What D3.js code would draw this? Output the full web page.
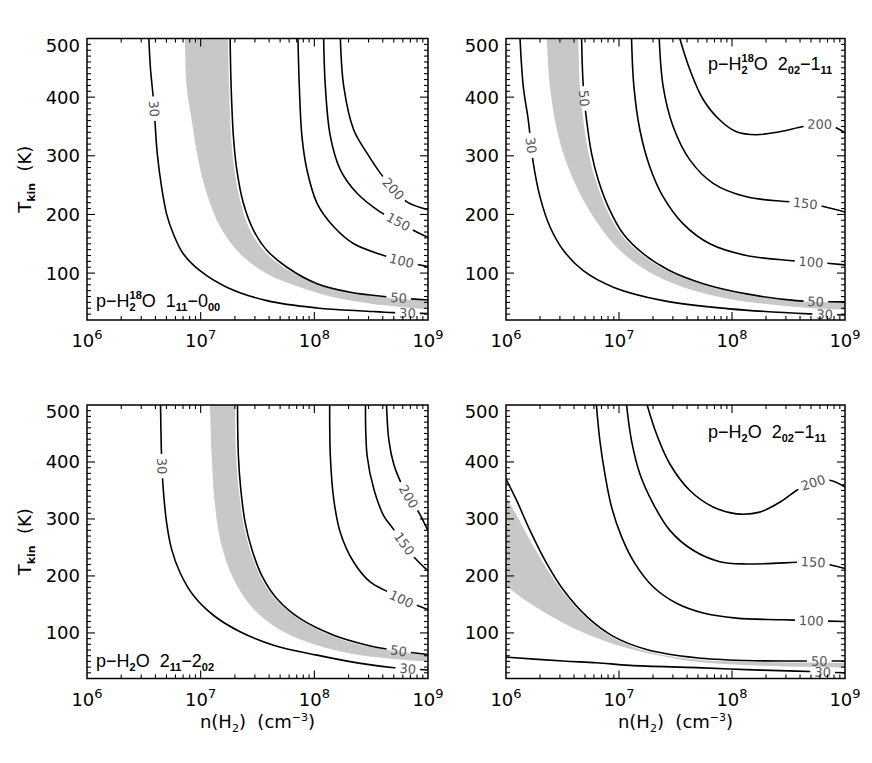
<!DOCTYPE html>
<html><head><meta charset="utf-8">
<script src="https://cdn.jsdelivr.net/npm/d3@7"></script>
<style>
body{margin:0;background:#fff;}
text{font-family:"DejaVu Sans","Liberation Sans",Arial,sans-serif;white-space:pre;}
text.lib{font-family:"Liberation Sans",Arial,Helvetica,sans-serif;}
</style></head><body>
<svg id="c" width="872" height="763"></svg>
<script>
// ---------------- DATA ----------------
const xTickExp = [6, 7, 8, 9];
const yTickVals = [100, 200, 300, 400, 500];
const levels = [30, 50, 100, 150, 200];

// points are [log10 n(H2), Tkin]
// Panel 1: p-H2^18O 1_11-0_00
const p1_c30  = [[6.544,500],[6.559,447],[6.582,401],[6.597,361],[6.618,304],[6.656,247],[6.70,201],[6.759,167],[6.847,133],[6.994,104],[7.229,76],[7.582,53],[8.024,40.5],[8.465,35],[8.70,32.5],[9.0,31]];
const p1_c50  = [[7.259,500],[7.268,418],[7.288,333],[7.318,276],[7.376,219],[7.465,173],[7.582,139],[7.759,110],[8.024,82],[8.318,67.3],[8.612,60],[9.0,54]];
const p1_c100 = [[7.856,500],[7.868,418],[7.891,333],[7.935,276],[8.024,219],[8.171,179],[8.347,150],[8.612,130],[8.75,122],[9.0,111]];
const p1_c150 = [[8.082,500],[8.097,418],[8.141,333],[8.229,276],[8.376,236],[8.582,204],[8.735,188],[8.90,170],[9.0,161]];
const p1_c200 = [[8.229,500],[8.259,418],[8.347,344],[8.465,304],[8.582,270],[8.694,244],[8.818,221],[9.0,208]];
const p1_bandL = [[6.862,500],[6.876,418],[6.921,361],[6.979,293],[7.053,236],[7.171,179],[7.347,133],[7.582,99],[7.876,76],[8.171,59],[8.612,45],[9.0,38]];
const p1_bandR = [[7.241,500],[7.25,418],[7.268,333],[7.297,276],[7.353,219],[7.435,173],[7.553,139],[7.729,110],[7.994,84.5],[8.288,69],[8.612,59],[9.0,53]];

// Panel 2: p-H2^18O 2_02-1_11
const p2_c30  = [[6.124,500],[6.153,418],[6.197,361],[6.242,287],[6.301,230],[6.389,179],[6.507,139],[6.684,104],[6.949,76],[7.391,53],[7.98,39],[8.687,30.5],[9.0,28.5]];
const p2_c50  = [[6.669,500],[6.684,418],[6.713,361],[6.757,304],[6.816,259],[6.905,213],[7.037,167],[7.214,133],[7.45,104],[7.745,82],[8.128,64.5],[8.57,53],[9.0,51]];
const p2_c100 = [[7.111,500],[7.132,418],[7.185,344],[7.273,281],[7.391,230],[7.568,184],[7.804,150],[8.128,130],[8.511,121.5],[8.70,119],[9.0,114]];
const p2_c150 = [[7.356,500],[7.391,418],[7.479,350],[7.627,293],[7.833,253],[8.128,230],[8.481,222],[8.65,219],[8.80,214],[9.0,204]];
const p2_c200 = [[7.538,500],[7.627,447],[7.745,396],[7.892,361],[8.039,341],[8.216,336],[8.422,341],[8.629,350],[8.776,354],[8.91,349],[9.0,339]];
const p2_bandL = [[6.36,500],[6.389,418],[6.433,361],[6.507,304],[6.625,247],[6.772,196],[6.978,144.4],[7.244,104.4],[7.568,76],[7.98,56],[8.57,42],[9.0,37]];
const p2_bandR = [[6.64,500],[6.654,418],[6.684,361],[6.731,304],[6.793,259],[6.881,213],[7.014,167],[7.191,133],[7.426,104],[7.721,82],[8.113,63],[8.57,52.5],[9.0,49.6]];

// Panel 3: p-H2O 2_11-2_02
const p3_c30  = [[6.647,500],[6.656,410],[6.671,352],[6.70,294],[6.744,247],[6.818,206],[6.935,166],[7.112,131],[7.347,102],[7.641,78.5],[8.024,61],[8.406,46.5],[8.70,39],[9.0,35]];
const p3_c50  = [[7.324,500],[7.332,410],[7.353,352],[7.391,294],[7.45,247],[7.538,200.6],[7.671,160],[7.876,125],[8.171,96],[8.465,78.5],[8.641,71.5],[9.0,62]];
const p3_c100 = [[8.135,500],[8.141,410],[8.171,334],[8.229,276],[8.347,224],[8.494,189],[8.641,172.7],[8.774,159],[9.0,141]];
const p3_c150 = [[8.45,500],[8.465,410],[8.524,352],[8.612,305],[8.685,285],[8.79,257],[8.891,230],[9.0,209]];
const p3_c200 = [[8.635,500],[8.656,438],[8.70,395],[8.75,369],[8.83,339],[8.92,311],[9.0,279]];
const p3_bandL = [[7.082,500],[7.097,410],[7.126,323],[7.185,253],[7.288,195],[7.465,142],[7.729,102],[8.024,78.5],[8.406,61],[9.0,50]];
const p3_bandR = [[7.303,500],[7.312,410],[7.335,352],[7.374,294],[7.432,247],[7.521,200.6],[7.653,160],[7.859,125],[8.153,95],[8.447,77],[9.0,60.5]];

// Panel 4: p-H2O 2_02-1_11
const p4_c30  = [[6.0,57.6],[6.507,50.6],[6.80,47.7],[7.096,43],[7.685,39],[8.128,35.5],[8.57,33],[9.0,30]];
const p4_c50  = [[6.0,370],[6.094,332.6],[6.212,280],[6.36,222],[6.507,175.6],[6.713,129],[6.949,94],[7.244,71],[7.685,56.4],[8.128,51.5],[8.629,50.8],[9.0,50.6]];
const p4_c100 = [[6.80,500],[6.831,437],[6.875,379],[6.934,321],[7.023,268.6],[7.140,222],[7.302,181],[7.509,152],[7.745,135],[8.039,126],[8.452,123],[9.0,120]];
const p4_c150 = [[7.067,500],[7.111,437],[7.185,379],[7.302,327],[7.450,280],[7.656,245],[7.892,225],[8.128,221],[8.363,222],[8.57,224],[8.75,224],[9.0,213]];
const p4_c200 = [[7.249,500],[7.332,449],[7.450,396.5],[7.627,350],[7.833,321],[8.039,309],[8.245,312],[8.452,333],[8.57,350],[8.717,364],[8.865,368],[9.0,356]];
const p4_bandU = [[6.0,339.5],[6.094,306],[6.212,263],[6.36,213],[6.507,171],[6.713,125.6],[6.949,91],[7.244,68],[7.685,53.5],[8.275,49],[9.0,47.7]];
const p4_bandD = [[6.0,182.5],[6.212,152],[6.507,117.4],[6.802,91],[7.096,72],[7.538,53.5],[7.98,44.8],[8.57,40.7],[9.0,39]];

// Panel titles as rich-text segments
const title1 = [{t:"p\u2212H",k:"n"},{t:"2",k:"sub"},{t:"18",k:"supstack"},{t:"O  1",k:"n"},{t:"11",k:"sub"},{t:"\u22120",k:"n"},{t:"00",k:"sub"}];
const title2 = [{t:"p\u2212H",k:"n"},{t:"2",k:"sub"},{t:"18",k:"supstack"},{t:"O  2",k:"n"},{t:"02",k:"sub"},{t:"\u22121",k:"n"},{t:"11",k:"sub"}];
const title3 = [{t:"p\u2212H",k:"n"},{t:"2",k:"sub"},{t:"O  2",k:"n"},{t:"11",k:"sub"},{t:"\u22122",k:"n"},{t:"02",k:"sub"}];
const title4 = [{t:"p\u2212H",k:"n"},{t:"2",k:"sub"},{t:"O  2",k:"n"},{t:"02",k:"sub"},{t:"\u22121",k:"n"},{t:"11",k:"sub"}];
const xTitle = [{t:"n(H",k:"n"},{t:"2",k:"sub"},{t:")  (cm",k:"n"},{t:"\u22123",k:"sup"},{t:")",k:"n"}];
const yTitle = [{t:"T",k:"n"},{t:"kin",k:"sub"},{t:"  (K)",k:"n"}];

// ---------------- LAYOUT ----------------
const panels = [
  {x0:87, x1:428, y0:38.5, y1:320, title:title1, tx:96, ty:307, curves:[
    {pts:p1_c30, lab:"30", at:[[6.59,380],[8.82,32]]},
    {pts:p1_c50, lab:"50", at:[[8.74,57]]},
    {pts:p1_c100, lab:"100", at:[[8.77,121]]},
    {pts:p1_c150, lab:"150", at:[[8.74,188]]},
    {pts:p1_c200, lab:"200", at:[[8.70,244]]}],
   band:{a:p1_bandL, b:p1_bandR}, xt:false, yt:true},
  {x0:506, x1:845, y0:38.5, y1:320, title:title2, tx:708, ty:70, curves:[
    {pts:p2_c30, lab:"30", at:[[6.225,318],[8.82,29.5]]},
    {pts:p2_c50, lab:"50", at:[[6.69,398],[8.74,52]]},
    {pts:p2_c100, lab:"100", at:[[8.70,119]]},
    {pts:p2_c150, lab:"150", at:[[8.65,220]]},
    {pts:p2_c200, lab:"200", at:[[8.776,354]]}],
   band:{a:p2_bandL, b:p2_bandR}, xt:false, yt:false},
  {x0:87, x1:428, y0:405, y1:678.5, title:title3, tx:96, ty:667, curves:[
    {pts:p3_c30, lab:"30", at:[[6.66,393],[8.82,37.5]]},
    {pts:p3_c50, lab:"50", at:[[8.74,68]]},
    {pts:p3_c100, lab:"100", at:[[8.77,160]]},
    {pts:p3_c150, lab:"150", at:[[8.79,257]]},
    {pts:p3_c200, lab:"200", at:[[8.83,339]]}],
   band:{a:p3_bandL, b:p3_bandR}, xt:true, yt:true},
  {x0:506, x1:845, y0:405, y1:678.5, title:title4, tx:708, ty:438, curves:[
    {pts:p4_c30, lab:"30", at:[[8.80,31.5]]},
    {pts:p4_c50, lab:"50", at:[[8.77,50.7]]},
    {pts:p4_c100, lab:"100", at:[[8.70,122]]},
    {pts:p4_c150, lab:"150", at:[[8.72,224]]},
    {pts:p4_c200, lab:"200", at:[[8.717,364]]}],
   band:{a:p4_bandU, b:p4_bandD}, xt:true, yt:false}
];

const svg = d3.select("#c");
const defs = svg.append("defs");

function rich(g, x, y, segs, o) {
  const grp = g.append("g");
  let cx = 0, subStart = 0, subW = 0;
  segs.forEach(s => {
    const size = s.k === "n" ? o.fs : o.sfs;
    const dy = s.k === "sub" ? o.subDy : (s.k === "sup" || s.k === "supstack") ? o.supDy : 0;
    const sx = s.k === "supstack" ? subStart : cx;
    const t = grp.append("text").attr("x", sx).attr("y", dy).attr("font-size", size).attr("fill", "#000").text(s.t);
    if (o.cls) t.attr("class", o.cls);
    if (s.k !== "n" && o.subBold) t.attr("font-weight", "bold");
    const w = t.node().getComputedTextLength();
    if (s.k === "sub") { subStart = cx; subW = w; }
    if (s.k === "supstack") cx = Math.max(subStart + subW, sx + w);
    else cx = sx + w;
  });
  let off = 0;
  if (o.anchor === "middle") off = -cx / 2;
  else if (o.anchor === "end") off = -cx;
  grp.attr("transform", `translate(${x},${y})` + (o.rotate ? ` rotate(${o.rotate})` : "") + ` translate(${off},0)`);
  return grp;
}

const line = d3.line().curve(d3.curveCatmullRom.alpha(0.5));

panels.forEach((P, i) => {
  const xs = d3.scaleLog().domain([1e6, 1e9]).range([P.x0, P.x1]);
  const ys = d3.scaleLinear().domain([20, 500]).range([P.y1, P.y0]);
  const px = p => [xs(Math.pow(10, p[0])), ys(p[1])];
  const g = svg.append("g");
  const cid = "clip" + i;
  defs.append("clipPath").attr("id", cid).append("rect")
    .attr("x", P.x0).attr("y", P.y0).attr("width", P.x1 - P.x0).attr("height", P.y1 - P.y0);
  const inner = g.append("g").attr("clip-path", `url(#${cid})`);

  // band: two smooth edges joined into one closed area
  const eA = line(P.band.a.map(px));
  const eB = line(P.band.b.slice().reverse().map(px));
  inner.append("path").attr("d", eA + "L" + eB.slice(1) + "Z").attr("fill", "#c8c8c8").attr("stroke", "none");

  // contours with inline labels
  P.curves.forEach(c => {
    const path = inner.append("path").attr("d", line(c.pts.map(px)))
      .attr("fill", "none").attr("stroke", "#000").attr("stroke-width", 1.6);
    const node = path.node();
    const L = node.getTotalLength();
    const gaps = [];
    c.at.forEach(a => {
      const [ax, ay] = px(a);
      let best = 0, bd = 1e9;
      for (let s = 0; s <= L; s += 0.5) {
        const q = node.getPointAtLength(s);
        const d = (q.x - ax) ** 2 + (q.y - ay) ** 2;
        if (d < bd) { bd = d; best = s; }
      }
      const p0 = node.getPointAtLength(Math.max(0, best - 6));
      const p2 = node.getPointAtLength(Math.min(L, best + 6));
      const pc = node.getPointAtLength(best);
      let ang = Math.atan2(p2.y - p0.y, p2.x - p0.x) * 180 / Math.PI;
      if (ang > 90) ang -= 180;
      if (ang < -90) ang += 180;
      const t = g.append("text").attr("font-size", 13).attr("fill", "#555")
        .attr("text-anchor", "middle").attr("dy", "0.36em")
        .attr("transform", `translate(${pc.x},${pc.y}) rotate(${ang})`).text(c.lab);
      const w = t.node().getComputedTextLength() + 8;
      gaps.push([Math.max(0, best - w / 2), Math.min(L, best + w / 2)]);
    });
    gaps.sort((a, b) => a[0] - b[0]);
    const da = [];
    let cur = 0;
    gaps.forEach(gp => { da.push(Math.max(0, gp[0] - cur), gp[1] - gp[0]); cur = gp[1]; });
    da.push(L - cur + 50, 0);
    path.attr("stroke-dasharray", da.join(" "));
  });

  // frame
  g.append("rect").attr("x", P.x0).attr("y", P.y0).attr("width", P.x1 - P.x0).attr("height", P.y1 - P.y0)
    .attr("fill", "none").attr("stroke", "#000").attr("stroke-width", 1.5);

  // ticks (inward, all four sides)
  const tk = g.append("g").attr("stroke", "#000").attr("stroke-width", 1.1);
  for (let e = 6; e < 9; e++) {
    for (let m = 1; m <= 9; m++) {
      if (m === 1 && e === 6) continue;
      const X = xs(m * Math.pow(10, e)), len = m === 1 ? 8 : 4;
      tk.append("line").attr("x1", X).attr("x2", X).attr("y1", P.y1).attr("y2", P.y1 - len);
      tk.append("line").attr("x1", X).attr("x2", X).attr("y1", P.y0).attr("y2", P.y0 + len);
    }
  }
  for (let v = 30; v < 500; v += 10) {
    const Y = ys(v), len = v % 100 === 0 ? 8 : 4;
    tk.append("line").attr("x1", P.x0).attr("x2", P.x0 + len).attr("y1", Y).attr("y2", Y);
    tk.append("line").attr("x1", P.x1).attr("x2", P.x1 - len).attr("y1", Y).attr("y2", Y);
  }

  // tick labels
  xTickExp.forEach(e => {
    rich(g, xs(Math.pow(10, e)), P.y1 + 27, [{t:"10",k:"n"},{t:String(e),k:"sup"}],
      {fs:18, sfs:13, subDy:5, supDy:-8, anchor:"middle"});
  });
  yTickVals.forEach(v => {
    g.append("text").attr("x", P.x0 - 7).attr("y", ys(v) + 6.5 + (v === 500 ? 6.5 : 0))
      .attr("text-anchor", "end").attr("font-size", 18).attr("fill", "#000").text(v);
  });

  // titles
  rich(g, P.tx, P.ty, P.title, {fs:18, sfs:11, subDy:4, supDy:-8, anchor:"start", subBold:true, cls:"lib"});
  if (P.xt) rich(g, (P.x0 + P.x1) / 2, 728, xTitle, {fs:18, sfs:11, subDy:4, supDy:-7, anchor:"middle"});
  if (P.yt) rich(g, 31, (P.y0 + P.y1) / 2, yTitle, {fs:18, sfs:11, subDy:4, supDy:-7, anchor:"middle", rotate:-90, subBold:true});
});
</script>
</body></html>
